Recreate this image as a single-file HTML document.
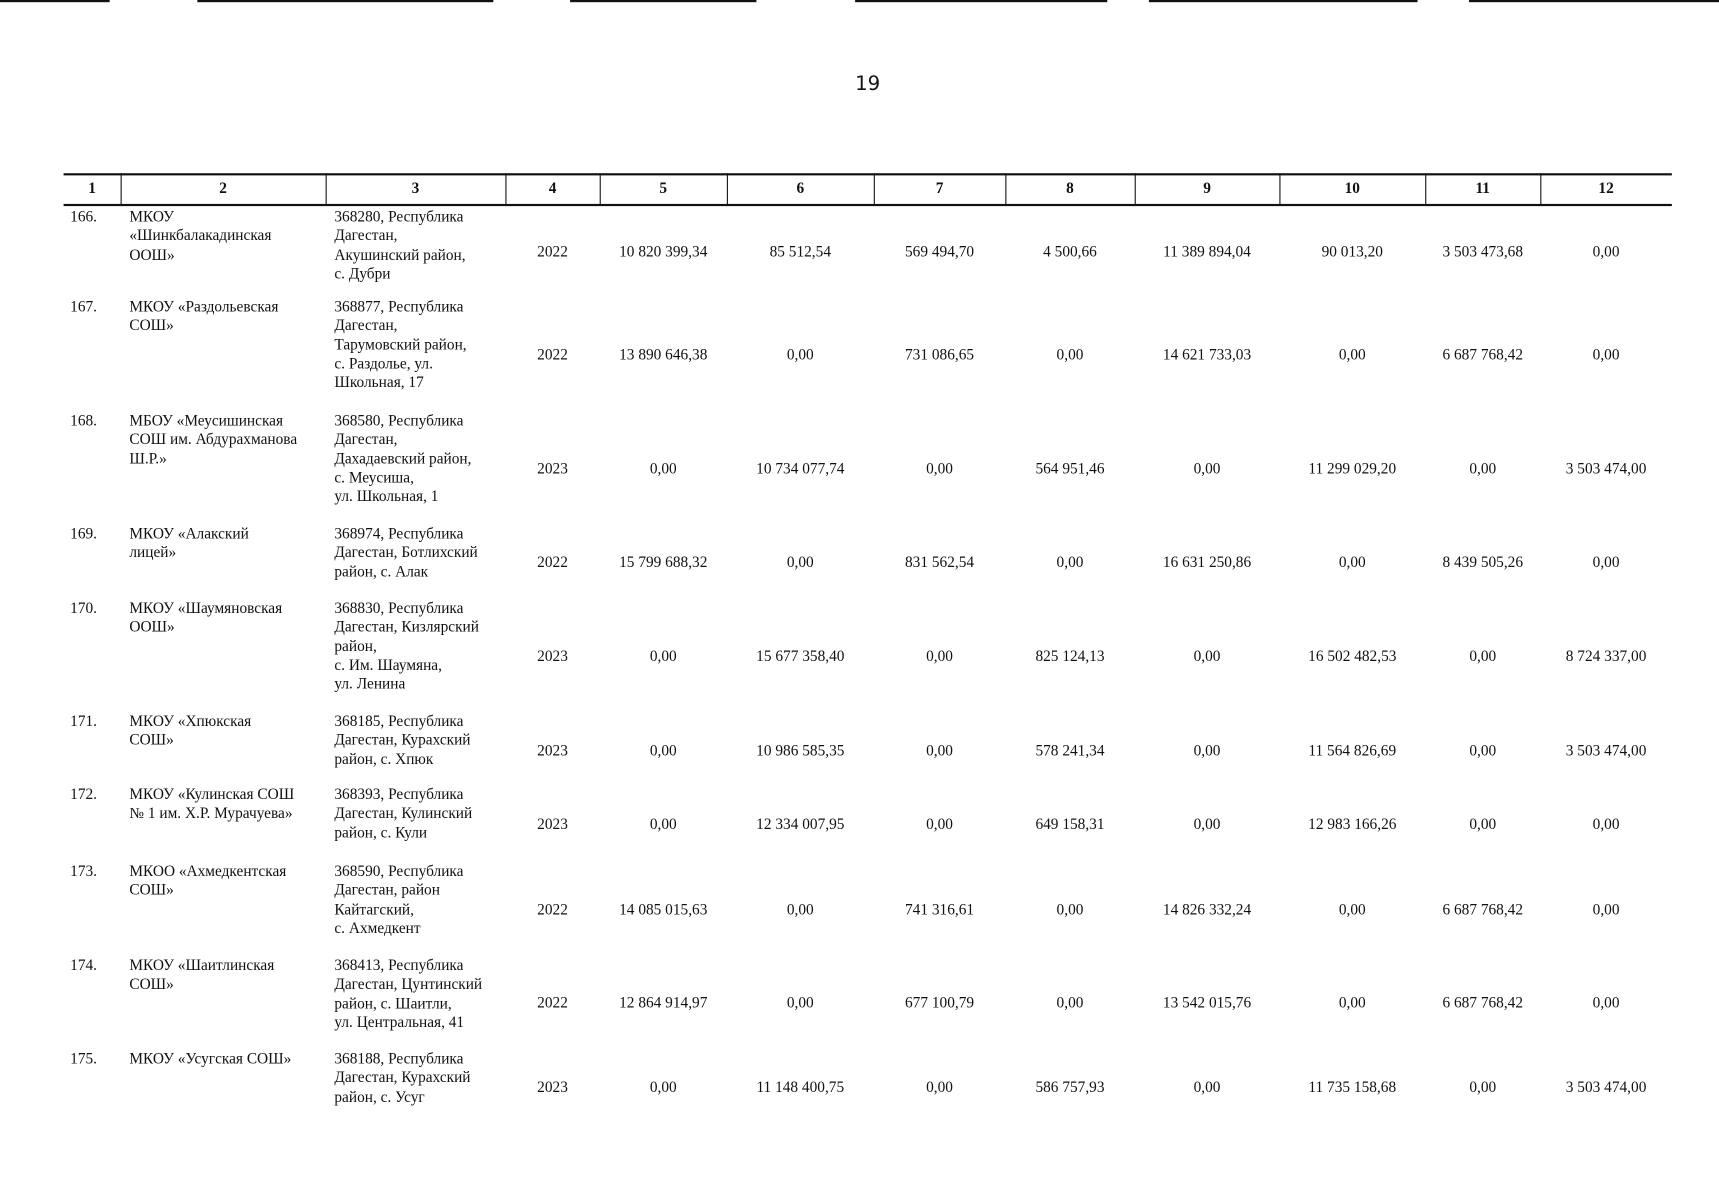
<!DOCTYPE html>
<html><head><meta charset="utf-8"><style>
body{margin:0;background:#fff;}
#w{position:relative;width:1568px;height:1095px;transform:scale(1.09630);transform-origin:0 0;font-family:"Liberation Serif",serif;font-size:14px;color:#111;}
.a{position:absolute;white-space:nowrap;line-height:17.3px;}
.c{position:absolute;text-align:center;transform:translateY(-50%);white-space:nowrap;}
.h{position:absolute;background:#111;height:1.5px;}
.v{position:absolute;background:#111;width:1px;top:158px;height:29px;}
</style></head><body><div id="w">
<div class="h" style="left:0;top:0;width:100px"></div>
<div class="h" style="left:180px;top:0;width:270px"></div>
<div class="h" style="left:520px;top:0;width:170px"></div>
<div class="h" style="left:780px;top:0;width:230px"></div>
<div class="h" style="left:1048px;top:0;width:245px"></div>
<div class="h" style="left:1340px;top:0;width:228px"></div>
<div class="a" style="left:780px;top:68px;font-family:'DejaVu Sans',sans-serif;font-size:18px">19</div>
<div class="h" style="left:58px;top:158px;width:1467px"></div>
<div class="h" style="left:58px;top:186px;width:1467px"></div>
<div class="v" style="left:110px"></div><div class="v" style="left:297px"></div><div class="v" style="left:461px"></div><div class="v" style="left:547px"></div><div class="v" style="left:663px"></div><div class="v" style="left:797px"></div><div class="v" style="left:917px"></div><div class="v" style="left:1035px"></div><div class="v" style="left:1167px"></div><div class="v" style="left:1300px"></div><div class="v" style="left:1405px"></div>
<div id="hdr"></div>
<div id="rows"></div>
</div>
<script>
var cols=[58,110,297,461,547,663,797,917,1035,1167,1300,1405,1525];
var h='';
for(var i=0;i<12;i++){h+='<div class="c" style="left:'+cols[i]+'px;width:'+(cols[i+1]-cols[i])+'px;top:173px;font-weight:bold">'+(i+1)+'</div>';}
document.getElementById('hdr').outerHTML=h;
var R=[
[189,231,'166.','МКОУ<br>«Шинкбалакадинская<br>ООШ»','368280, Республика<br>Дагестан,<br>Акушинский район,<br>с. Дубри','2022',['10 820 399,34','85 512,54','569 494,70','4 500,66','11 389 894,04','90 013,20','3 503 473,68','0,00']],
[271,325,'167.','МКОУ «Раздольевская<br>СОШ»','368877, Республика<br>Дагестан,<br>Тарумовский район,<br>с. Раздолье, ул.<br>Школьная, 17','2022',['13 890 646,38','0,00','731 086,65','0,00','14 621 733,03','0,00','6 687 768,42','0,00']],
[375,429,'168.','МБОУ «Меусишинская<br>СОШ им. Абдурахманова<br>Ш.Р.»','368580, Республика<br>Дагестан,<br>Дахадаевский район,<br>с. Меусиша,<br>ул. Школьная, 1','2023',['0,00','10 734 077,74','0,00','564 951,46','0,00','11 299 029,20','0,00','3 503 474,00']],
[478,514,'169.','МКОУ «Алакский<br>лицей»','368974, Республика<br>Дагестан, Ботлихский<br>район, с. Алак','2022',['15 799 688,32','0,00','831 562,54','0,00','16 631 250,86','0,00','8 439 505,26','0,00']],
[546,600,'170.','МКОУ «Шаумяновская<br>ООШ»','368830, Республика<br>Дагестан, Кизлярский<br>район,<br>с. Им. Шаумяна,<br>ул. Ленина','2023',['0,00','15 677 358,40','0,00','825 124,13','0,00','16 502 482,53','0,00','8 724 337,00']],
[649,686,'171.','МКОУ «Хпюкская<br>СОШ»','368185, Республика<br>Дагестан, Курахский<br>район, с. Хпюк','2023',['0,00','10 986 585,35','0,00','578 241,34','0,00','11 564 826,69','0,00','3 503 474,00']],
[716,753,'172.','МКОУ «Кулинская СОШ<br>№ 1 им. Х.Р. Мурачуева»','368393, Республика<br>Дагестан, Кулинский<br>район, с. Кули','2023',['0,00','12 334 007,95','0,00','649 158,31','0,00','12 983 166,26','0,00','0,00']],
[786,831,'173.','МКОО «Ахмедкентская<br>СОШ»','368590, Республика<br>Дагестан, район<br>Кайтагский,<br>с. Ахмедкент','2022',['14 085 015,63','0,00','741 316,61','0,00','14 826 332,24','0,00','6 687 768,42','0,00']],
[872,916,'174.','МКОУ «Шаитлинская<br>СОШ»','368413, Республика<br>Дагестан, Цунтинский<br>район, с. Шаитли,<br>ул. Центральная, 41','2022',['12 864 914,97','0,00','677 100,79','0,00','13 542 015,76','0,00','6 687 768,42','0,00']],
[957,993,'175.','МКОУ «Усугская СОШ»','368188, Республика<br>Дагестан, Курахский<br>район, с. Усуг','2023',['0,00','11 148 400,75','0,00','586 757,93','0,00','11 735 158,68','0,00','3 503 474,00']]
];
var s='';
R.forEach(function(r){
 var t=r[0]+1;
 s+='<div class="a" style="left:64px;top:'+t+'px">'+r[2]+'</div>';
 s+='<div class="a" style="left:118px;top:'+t+'px">'+r[3]+'</div>';
 s+='<div class="a" style="left:305px;top:'+t+'px">'+r[4]+'</div>';
 s+='<div class="c" style="left:461px;width:86px;top:'+r[1]+'px">'+r[5]+'</div>';
 for(var i=0;i<8;i++){s+='<div class="c" style="left:'+cols[i+4]+'px;width:'+(cols[i+5]-cols[i+4])+'px;top:'+r[1]+'px">'+r[6][i]+'</div>';}
});
document.getElementById('rows').outerHTML=s;
</script>
</body></html>
